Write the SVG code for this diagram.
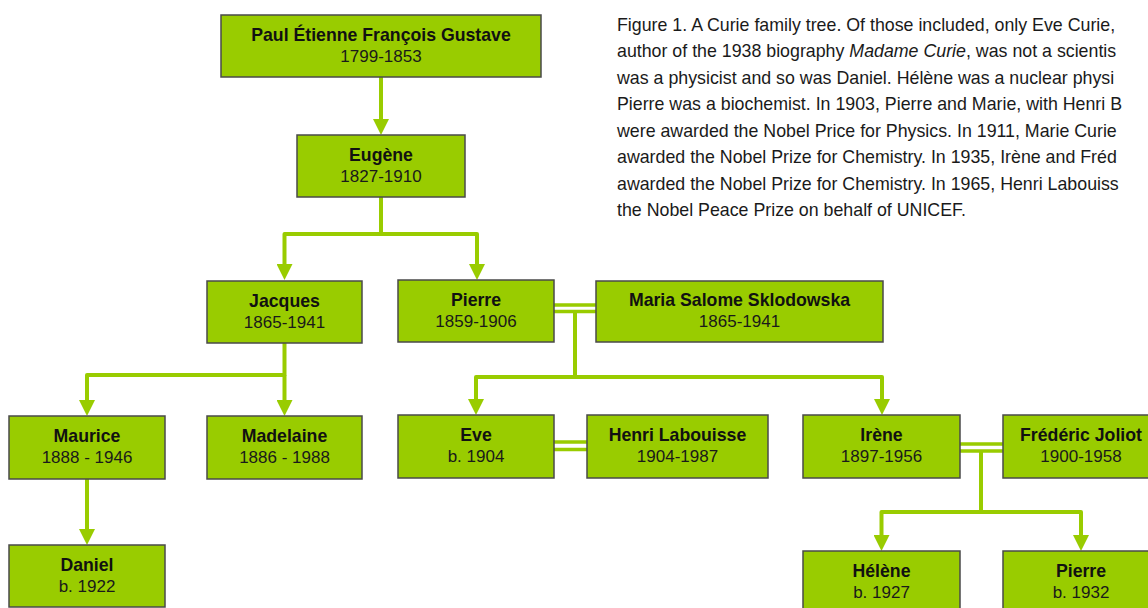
<svg xmlns="http://www.w3.org/2000/svg" width="1148" height="608" viewBox="0 0 1148 608">
<style>
.box{fill:#99cc00;stroke:#4a4a4a;stroke-width:1.5}
.nm{font-family:"Liberation Sans",Arial,sans-serif;font-size:17.7px;font-weight:bold;fill:#111;text-anchor:middle}
.dt{font-family:"Liberation Sans",Arial,sans-serif;font-size:17px;fill:#1a1a1a;text-anchor:middle}
.ln{fill:none;stroke:#99cc00;stroke-width:4;stroke-linejoin:round}
.arr{marker-end:url(#ah)}
.dbl{fill:none;stroke:#99cc00;stroke-width:3.5}
.cap{font-family:"Liberation Sans",Arial,sans-serif;font-size:17.8px;fill:#1a1a1a}
</style>
<defs>
<marker id="ah" viewBox="0 0 16 16" markerWidth="16" markerHeight="16" refX="2" refY="8" orient="auto" markerUnits="userSpaceOnUse">
<path d="M0,0 L16,8 L0,16 z" fill="#99cc00"/>
</marker>
</defs>
<rect width="1148" height="608" fill="#ffffff"/>
<g id="connectors">
<path class="ln arr" d="M381,77 V121"/>
<path class="ln arr" d="M381,197 V234 H284.5 V266"/>
<path class="ln arr" d="M381,234 H477 V266"/>
<path class="dbl" d="M554,305 H596 M554,311.5 H596"/>
<path class="ln arr" d="M575,312 V377 H476 V401"/>
<path class="ln arr" d="M575,377 H882 V401"/>
<path class="ln arr" d="M284.5,343 V375 H87 V402"/>
<path class="ln arr" d="M284.5,375 V402"/>
<path class="ln arr" d="M87,479 V531"/>
<path class="dbl" d="M554,442 H587 M554,449.5 H587"/>
<path class="dbl" d="M960,444 H1003 M960,451 H1003"/>
<path class="ln arr" d="M981,451 V512 H881.5 V537"/>
<path class="ln arr" d="M981,512 H1081 V537"/>
</g>
<g id="paul"><rect class="box" x="221" y="15" width="320" height="62"/><text class="nm" x="381" y="40.5">Paul Étienne François Gustave</text><text class="dt" x="381" y="61.5">1799-1853</text></g>
<g id="eugene"><rect class="box" x="297" y="135" width="168" height="62"/><text class="nm" x="381" y="160.5">Eugène</text><text class="dt" x="381" y="181.5">1827-1910</text></g>
<g id="jacques"><rect class="box" x="207" y="281" width="155" height="62"/><text class="nm" x="284.5" y="306.5">Jacques</text><text class="dt" x="284.5" y="327.5">1865-1941</text></g>
<g id="pierre"><rect class="box" x="398" y="280" width="156" height="62"/><text class="nm" x="476" y="305.5">Pierre</text><text class="dt" x="476" y="326.5">1859-1906</text></g>
<g id="maria"><rect class="box" x="596" y="281" width="287" height="61"/><text class="nm" x="739.5" y="305.5">Maria Salome Sklodowska</text><text class="dt" x="739.5" y="326.5">1865-1941</text></g>
<g id="maurice"><rect class="box" x="9" y="416" width="156" height="63"/><text class="nm" x="87" y="441.5">Maurice</text><text class="dt" x="87" y="462.5">1888 - 1946</text></g>
<g id="madelaine"><rect class="box" x="207" y="416" width="155" height="63"/><text class="nm" x="284.5" y="441.5">Madelaine</text><text class="dt" x="284.5" y="462.5">1886 - 1988</text></g>
<g id="eve"><rect class="box" x="398" y="415" width="156" height="63"/><text class="nm" x="476" y="440.5">Eve</text><text class="dt" x="476" y="461.5">b. 1904</text></g>
<g id="henri"><rect class="box" x="587" y="415" width="181" height="63"/><text class="nm" x="677.5" y="440.5">Henri Labouisse</text><text class="dt" x="677.5" y="461.5">1904-1987</text></g>
<g id="irene"><rect class="box" x="803" y="415" width="157" height="63"/><text class="nm" x="881.5" y="440.5">Irène</text><text class="dt" x="881.5" y="461.5">1897-1956</text></g>
<g id="frederic"><rect class="box" x="1003" y="415" width="157" height="63"/><text class="nm" x="1081" y="440.5">Frédéric Joliot</text><text class="dt" x="1081" y="461.5">1900-1958</text></g>
<g id="daniel"><rect class="box" x="9" y="545" width="156" height="62"/><text class="nm" x="87" y="570.5">Daniel</text><text class="dt" x="87" y="591.5">b. 1922</text></g>
<g id="helene"><rect class="box" x="803" y="551" width="157" height="63"/><text class="nm" x="881.5" y="576.5">Hélène</text><text class="dt" x="881.5" y="597.5">b. 1927</text></g>
<g id="pierre2"><rect class="box" x="1003" y="551" width="157" height="63"/><text class="nm" x="1081" y="576.5">Pierre</text><text class="dt" x="1081" y="597.5">b. 1932</text></g>
<g id="caption">
<text class="cap" x="617" y="30.5">Figure 1. A Curie family tree. Of those included, only Eve Curie,</text>
<text class="cap" x="617" y="57">author of the 1938 biography <tspan font-style="italic">Madame Curie</tspan>, was not a scientis</text>
<text class="cap" x="617" y="83.5">was a physicist and so was Daniel. Hélène was a nuclear physi</text>
<text class="cap" x="617" y="110">Pierre was a biochemist. In 1903, Pierre and Marie, with Henri B</text>
<text class="cap" x="617" y="136.5">were awarded the Nobel Price for Physics. In 1911, Marie Curie</text>
<text class="cap" x="617" y="163">awarded the Nobel Prize for Chemistry. In 1935, Irène and Fréd</text>
<text class="cap" x="617" y="189.5">awarded the Nobel Prize for Chemistry. In 1965, Henri Labouiss</text>
<text class="cap" x="617" y="216">the Nobel Peace Prize on behalf of UNICEF.</text>
</g>
</svg>
